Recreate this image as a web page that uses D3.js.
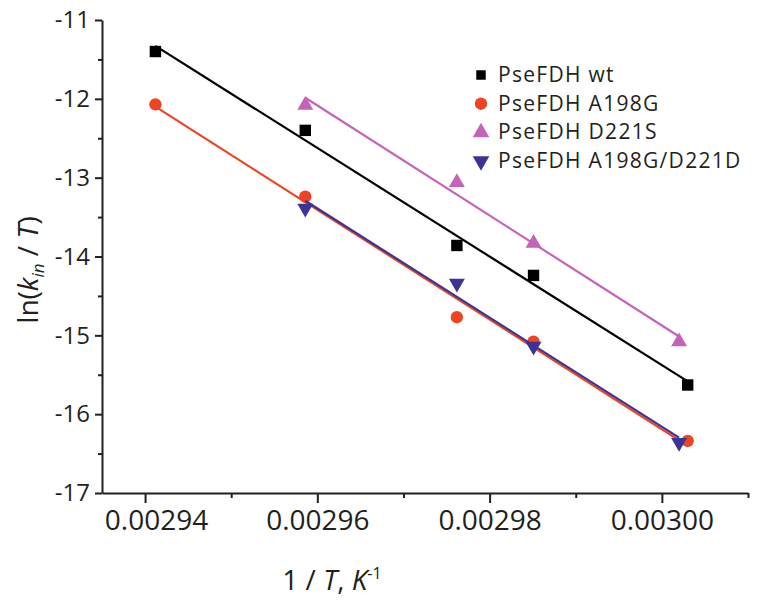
<!DOCTYPE html>
<html>
<head>
<meta charset="utf-8">
<script src="https://cdn.jsdelivr.net/npm/d3@7"></script>
<style>
  body { margin: 0; background: #fff; }
  text { font-family: "Open Sans", "Noto Sans", sans-serif; fill: #231f20; }
</style>
</head>
<body>
<svg id="chart" width="757" height="605"></svg>
<script>
// 1/T values (K^-1)
const xWt = [0.0029412, 0.0029586, 0.0029762, 0.0029851, 0.003003];
const xD221S = [0.0029586, 0.0029762, 0.0029851, 0.003002];
const xDouble = [0.0029586, 0.0029762, 0.0029851, 0.003002];

// ln(k_in/T)
const yWt = [-11.40, -12.40, -13.86, -14.24, -15.63];
const yA198G = [-12.07, -13.24, -14.77, -15.08, -16.34];
const yD221S = [-12.08, -13.06, -13.83, -15.08];
const yDouble = [-13.39, -14.34, -15.14, -16.36];

const seriesNames = ['PseFDH wt', 'PseFDH A198G', 'PseFDH D221S', 'PseFDH A198G/D221D'];
const xTicks = [0.00294, 0.00296, 0.00298, 0.00300];
const xMinor = [0.00295, 0.00297, 0.00299, 0.00301];
const yTicks = [-11, -12, -13, -14, -15, -16, -17];
const yMinor = [-11.5, -12.5, -13.5, -14.5, -15.5, -16.5];

const series = [
  { name: seriesNames[0], xs: xWt, ys: yWt, color: '#000000', shape: 'square' },
  { name: seriesNames[1], xs: xWt, ys: yA198G, color: '#ee4423', shape: 'circle' },
  { name: seriesNames[2], xs: xD221S, ys: yD221S, color: '#c563b8', shape: 'up' },
  { name: seriesNames[3], xs: xDouble, ys: yDouble, color: '#3b3494', shape: 'down' }
];

const svg = d3.select('#chart');

const x = d3.scaleLinear().domain([0.002935, 0.00301]).range([102, 748]);
const y = d3.scaleLinear().domain([-17, -11]).range([493, 20]);

const symbols = {
  square: d3.symbol().type(d3.symbolSquare).size(130),
  circle: d3.symbol().type(d3.symbolCircle).size(120),
  up: d3.symbol().type(d3.symbolTriangle).size(110),
  down: d3.symbol().type(d3.symbolTriangle).size(110)
};

// least squares fit for each series
function fit(xs, ys) {
  const mx = d3.mean(xs), my = d3.mean(ys);
  let sxy = 0, sxx = 0;
  xs.forEach((v, i) => { sxy += (v - mx) * (ys[i] - my); sxx += (v - mx) * (v - mx); });
  const b = sxy / sxx;
  const a = my - b * mx;
  const x0 = d3.min(xs), x1 = d3.max(xs);
  return [[x0, a + b * x0], [x1, a + b * x1]];
}

const line = d3.line().x(d => x(d[0])).y(d => y(d[1]));

series.forEach(s => {
  svg.append('path')
    .attr('d', line(fit(s.xs, s.ys)))
    .attr('fill', 'none')
    .attr('stroke', s.color)
    .attr('stroke-width', 2.2);

  svg.append('g')
    .selectAll('path')
    .data(s.xs.map((v, i) => [v, s.ys[i]]))
    .enter()
    .append('path')
    .attr('d', symbols[s.shape]())
    .attr('fill', s.color)
    .attr('transform', d => 'translate(' + x(d[0]) + ',' + y(d[1]) + ')' + (s.shape === 'down' ? ' rotate(180)' : ''));
});

// axes
const xAxis = svg.append('g')
  .attr('transform', 'translate(0,493)')
  .call(d3.axisBottom(x).tickValues(xTicks).tickFormat(d3.format('.5f')).tickSize(10).tickSizeOuter(0).tickPadding(7));
xAxis.selectAll('.tick text').attr('font-size', 28);
// the first label sits a little to the right of its tick
xAxis.selectAll('.tick text').filter(d => d === 0.00294).attr('dx', 11);
svg.append('g')
  .attr('transform', 'translate(0,493)')
  .call(d3.axisBottom(x).tickValues(xMinor).tickFormat('').tickSize(5).tickSizeOuter(0))
  .select('.domain').remove();

const yAxis = svg.append('g')
  .attr('transform', 'translate(102,0)')
  .call(d3.axisLeft(y).tickValues(yTicks).tickFormat(d => String(d)).tickSize(7).tickSizeOuter(0).tickPadding(5));
yAxis.selectAll('.tick text').attr('font-size', 24);
svg.append('g')
  .attr('transform', 'translate(102,0)')
  .call(d3.axisLeft(y).tickValues(yMinor).tickFormat('').tickSize(4).tickSizeOuter(0))
  .select('.domain').remove();

svg.selectAll('.domain, .tick line').attr('stroke', '#231f20').attr('stroke-width', 2);
svg.selectAll('.tick text').attr('fill', '#231f20');

// axis titles
const yTitle = svg.append('text')
  .attr('transform', 'translate(38,270) rotate(-90)')
  .attr('text-anchor', 'middle')
  .attr('font-size', 28);
yTitle.append('tspan').text('ln(');
yTitle.append('tspan').attr('font-style', 'italic').text('k');
yTitle.append('tspan').attr('font-style', 'italic').attr('font-size', 17).attr('dy', 6).text('in');
yTitle.append('tspan').attr('dy', -6).text(' / ');
yTitle.append('tspan').attr('font-style', 'italic').text('T');
yTitle.append('tspan').text(')');

const xTitle = svg.append('text')
  .attr('x', 332)
  .attr('y', 590)
  .attr('text-anchor', 'middle')
  .attr('font-size', 28);
xTitle.append('tspan').text('1 / ');
xTitle.append('tspan').attr('font-style', 'italic').text('T');
xTitle.append('tspan').text(', ');
xTitle.append('tspan').attr('font-style', 'italic').text('K');
xTitle.append('tspan').attr('font-size', 16).attr('dy', -11).text('-1');

// legend
const legend = svg.append('g').attr('transform', 'translate(481,75)');
series.forEach((s, i) => {
  const row = legend.append('g').attr('transform', 'translate(0,' + i * 28.7 + ')');
  row.append('path')
    .attr('d', d3.symbol().type(s.shape === 'square' ? d3.symbolSquare : s.shape === 'circle' ? d3.symbolCircle : d3.symbolTriangle).size(s.shape === 'square' ? 90 : 120)())
    .attr('fill', s.color)
    .attr('transform', s.shape === 'down' ? 'rotate(180)' : null);
  row.append('text')
    .attr('x', 17)
    .attr('y', 7)
    .attr('font-size', 21)
    .attr('letter-spacing', 1.3)
    .text(s.name);
});
</script>
</body>
</html>
